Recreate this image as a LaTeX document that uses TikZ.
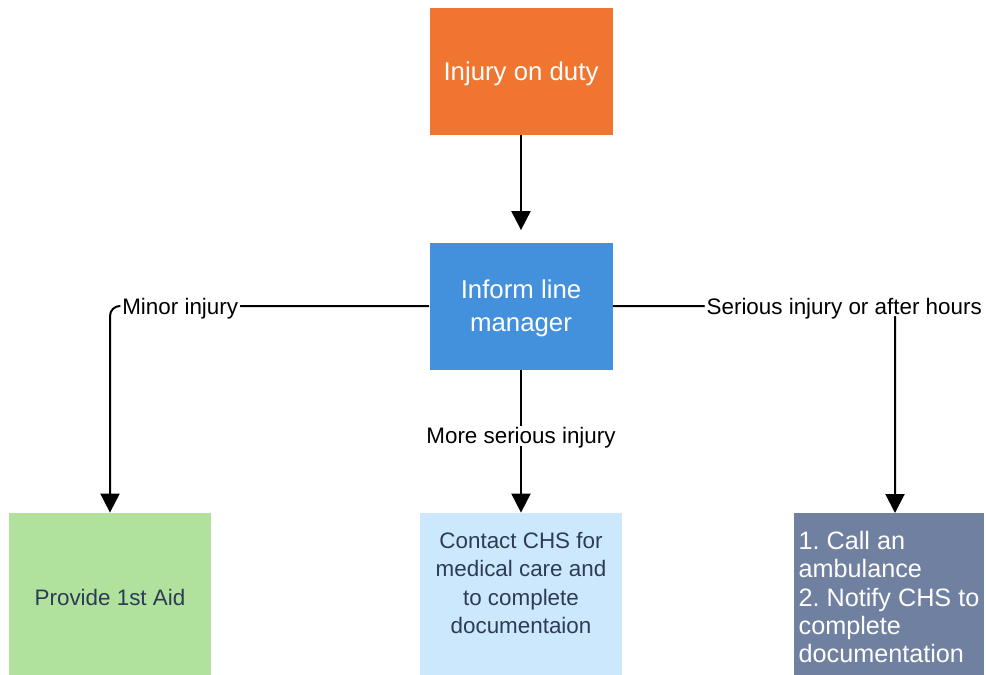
\documentclass[tikz,border=0pt]{standalone}
\usepackage{fontspec}
\setmainfont{Liberation Sans}
\frenchspacing
\usetikzlibrary{arrows.meta}
\definecolor{dutyorange}{HTML}{EF7531}
\definecolor{managerblue}{HTML}{4390DC}
\definecolor{aidgreen}{HTML}{B0E29D}
\definecolor{chsblue}{HTML}{CCE8FC}
\definecolor{slate}{HTML}{7080A0}
\definecolor{inktext}{HTML}{2E3B55}

\begin{document}
\begin{tikzpicture}[x=0.5pt, y=-0.5pt,
	box/.style={inner sep=2pt, align=center, minimum width=91.5pt, minimum height=63.5pt},
	bigtext/.style={font=\fontsize{12.9}{16.5}\selectfont, text=white, text depth=0pt},
	smalltext/.style={font=\fontsize{11.2}{14.2}\selectfont, text=inktext},
	lbl/.style={fill=white, inner sep=1pt, text height=8pt, text depth=0pt, font=\fontsize{11.2}{13.4}\selectfont},
	flow/.style={-{Triangle[width=9.5pt, length=9.5pt]}, line width=1pt}]
			\useasboundingbox (0,0) rectangle (986,675);
			\clip (0,0) rectangle (986,675);
			\node (injury) [box, bigtext, fill=dutyorange] at (521,71.5) {Injury on duty};
			\node (manager) [box, bigtext, fill=managerblue] at (521,306) {Inform line\\manager};
			\node (firstaid) [box, smalltext, fill=aidgreen, minimum width=101pt, minimum height=84pt] at (110,597) {Provide 1st Aid};
			\node (contact) [box, smalltext, fill=chsblue, minimum width=101pt, minimum height=84pt] at (521,597) {Contact CHS for\\medical care and\\to complete\\documentaion\\\mbox{}};
			\node (ambulance) [box, text=white, fill=slate, align=left, font=\fontsize{12.6}{14.2}\selectfont, minimum width=95pt, minimum height=84pt] at (889,597) {1. Call an\\ambulance\\2. Notify CHS to\\complete\\documentation};
			\coordinate (ambtop) at (895,513);
			
			\path (injury.south) edge [flow, shorten >=6pt] (manager.north);
			\draw [flow, rounded corners=5pt] (manager.west) -| node [lbl, pos=0.39] (minor) {Minor injury} (firstaid.north);
			\path (manager.south) edge [flow] node [lbl, pos=0.46] (moreserious) {More serious injury} (contact.north);
			\draw [flow, rounded corners=5pt] (manager.east) -| node [lbl, pos=0.41] (serious) {Serious injury or after hours} (ambtop);
			\end{tikzpicture}
\end{document}
